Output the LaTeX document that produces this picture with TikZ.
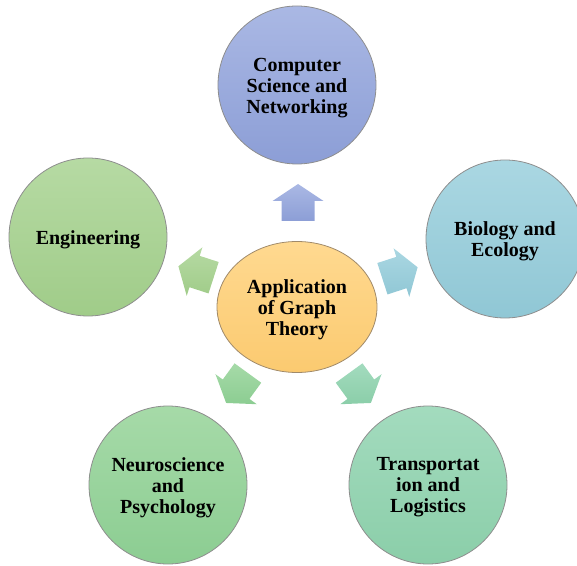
\documentclass[tikz,border=0pt]{standalone}
\usepackage{fontspec}
\setmainfont{Liberation Serif}
\usetikzlibrary{shapes.geometric}

% palette
\definecolor{cstop}{HTML}{AAB8E4}\definecolor{csbot}{HTML}{8C9ED6}
\definecolor{bitop}{HTML}{AAD7E2}\definecolor{bibot}{HTML}{90C7D5}
\definecolor{entop}{HTML}{B6DAA3}\definecolor{enbot}{HTML}{A0CC89}
\definecolor{nptop}{HTML}{A6DAA8}\definecolor{npbot}{HTML}{8CCD92}
\definecolor{tltop}{HTML}{A3DBBE}\definecolor{tlbot}{HTML}{8BCEA9}
\definecolor{hubtop}{HTML}{FFD990}\definecolor{hubbot}{HTML}{FBCA70}
\definecolor{rim}{HTML}{8E8E8E}
\definecolor{hubrim}{HTML}{A08A6A}

\tikzset{
  label text/.style={font=\fontsize{20}{21}\selectfont\bfseries, align=center, text=black,
    inner sep=0pt},
  bubble/.style={circle, minimum size=158pt, inner sep=0pt, draw=rim, line width=0.8pt},
  hub/.style={ellipse, minimum width=160pt, minimum height=131pt, inner sep=0pt,
    draw=hubrim, line width=0.8pt, top color=hubtop, bottom color=hubbot},
  % block arrow pointing along +x, centred on the origin
  outarrow/.pic={
    \path[pic actions] (-18.5,-16.5) -- (1.5,-16.5) -- (1.5,-25.5) -- (18.5,0)
      -- (1.5,25.5) -- (1.5,16.5) -- (-18.5,16.5) -- cycle;
  }
}

\begin{document}
\begin{tikzpicture}[x=1pt,y=1pt]
\useasboundingbox (0,0) rectangle (577,565);
\clip (0,0) rectangle (577,565);

% centre
\node[hub] (hub) at (297,258) {};

% outer topics
\node[bubble, top color=cstop, bottom color=csbot] (cs) at (297,480) {};
\node[bubble, top color=bitop, bottom color=bibot] (bio) at (505,326) {};
\node[bubble, top color=entop, bottom color=enbot] (eng) at (88,328) {};
\node[bubble, top color=nptop, bottom color=npbot] (neuro) at (168,80) {};
\node[bubble, top color=tltop, bottom color=tlbot] (trans) at (428,80) {};

% texts, set a little below each centre
\node[label text] (hubtxt) at ([yshift=-2.5pt]hub.center) {Application\\of Graph\\Theory};
\node[label text] (cstxt) at ([yshift=-3pt]cs.center) {Computer\\Science and\\Networking};
\node[label text] (biotxt) at ([yshift=-2.5pt]bio.center) {Biology and\\Ecology};
\node[label text] (engtxt) at ([yshift=-2.5pt]eng.center) {Engineering};
\node[label text] (neurotxt) at ([yshift=-2.5pt]neuro.center) {Neuroscience\\and\\Psychology};
\node[label text] (transtxt) at ([yshift=-2.5pt]trans.center) {Transportat\\ion and\\Logistics};

% arrows from the centre towards each topic
\pic[rotate=90,  top color=cstop, bottom color=csbot] at (298,362.5) {outarrow};
\pic[rotate=18,  top color=bitop, bottom color=bibot] at (400,292) {outarrow};
\pic[rotate=162, top color=entop, bottom color=enbot] at (196,293) {outarrow};
\pic[rotate=234, top color=nptop, bottom color=npbot] at (237,177) {outarrow};
\pic[rotate=306, top color=tltop, bottom color=tlbot] at (360,177) {outarrow};
\end{tikzpicture}
\end{document}
